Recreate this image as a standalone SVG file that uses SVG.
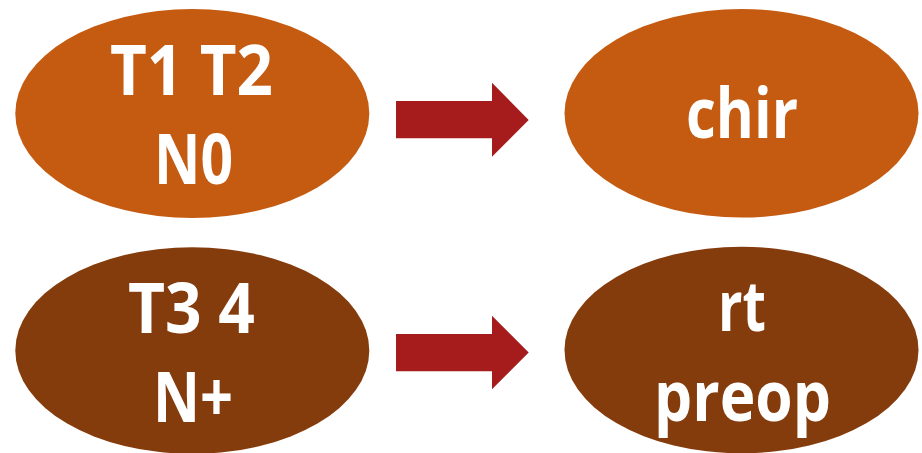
<svg xmlns="http://www.w3.org/2000/svg" width="922" height="453" viewBox="0 0 922 453">
<style>
.t{font-family:"Open Sans","Liberation Sans",sans-serif;font-weight:bold;font-size:70px;fill:#fff;text-anchor:middle}
.a{fill:#A61C1C}
.o1{fill:#C55A11}
.o2{fill:#843C0C}
</style>
<rect width="922" height="453" fill="#fff"/>
<g id="connectors">
<polygon class="a" points="396,101 492,101 492,82.7 528.7,120 492,156.7 492,138.3 396,138.3"/>
<polygon class="a" points="396,334 492,334 492,315.7 528.7,352.5 492,389.3 492,371.3 396,371.3"/>
</g>
<g id="n1"><ellipse class="o1" cx="192.3" cy="113.5" rx="177" ry="104.5"/><text class="t" x="191.5" y="95" textLength="163" lengthAdjust="spacingAndGlyphs">T1 T2</text><text class="t" x="193.5" y="184" textLength="79" lengthAdjust="spacingAndGlyphs">N0</text></g>
<g id="n2"><ellipse class="o1" cx="741.5" cy="113.3" rx="177" ry="104.3"/><text class="t" x="742" y="138" textLength="112" lengthAdjust="spacingAndGlyphs">chir</text></g>
<g id="n3"><ellipse class="o2" cx="192.3" cy="350.5" rx="177" ry="103.3"/><text class="t" x="191.5" y="333" textLength="127" lengthAdjust="spacingAndGlyphs">T3 4</text><text class="t" x="193" y="422" textLength="80" lengthAdjust="spacingAndGlyphs">N+</text></g>
<g id="n4"><ellipse class="o2" cx="741.5" cy="350" rx="177" ry="103.3"/><text class="t" x="742" y="331" textLength="48" lengthAdjust="spacingAndGlyphs">rt</text><text class="t" x="742.5" y="421" textLength="177" lengthAdjust="spacingAndGlyphs">preop</text></g>
</svg>
